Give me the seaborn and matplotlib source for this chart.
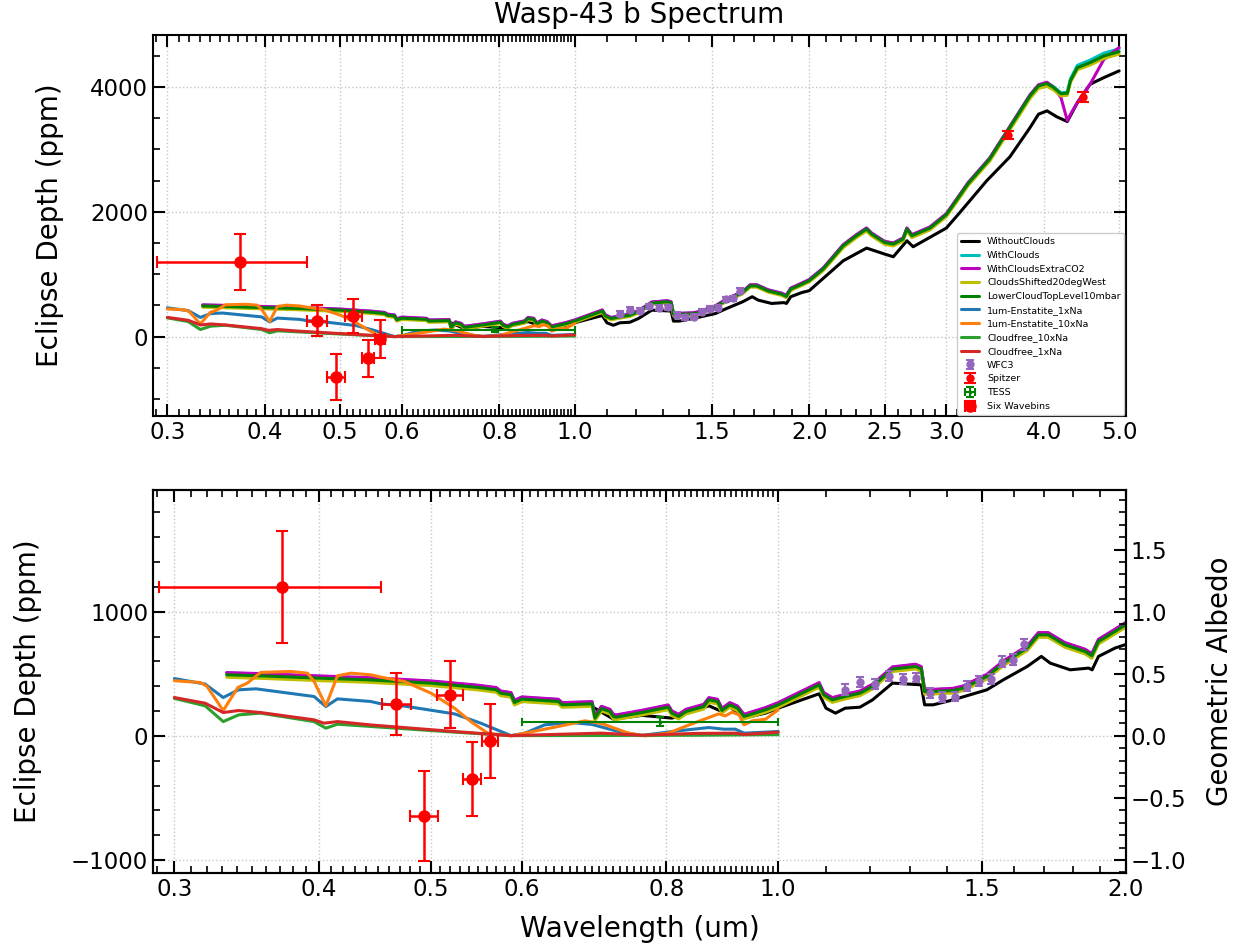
import numpy as np
import pandas as pd
import matplotlib
matplotlib.use("Agg")
import matplotlib.pyplot as plt
import seaborn as sns
from matplotlib.ticker import FixedLocator, FixedFormatter, MultipleLocator, NullFormatter

# ---------------- data ----------------
# GCM cloudy models, common wavelength grid (um)
wl_cloud = [0.333, 0.36, 0.40, 0.44, 0.50, 0.55, 0.57, 0.575, 0.587, 0.591,
            0.60, 0.645, 0.65, 0.69, 0.694, 0.703, 0.715, 0.72, 0.724, 0.762,
            0.803, 0.809, 0.82, 0.832, 0.862, 0.871, 0.886, 0.894, 0.908, 0.922,
            0.934, 0.975, 1.0, 1.085, 1.095, 1.114, 1.143, 1.177, 1.207, 1.256,
            1.315, 1.33, 1.339, 1.362, 1.417, 1.446, 1.516, 1.567, 1.643, 1.68,
            1.713, 1.771, 1.844, 1.869, 1.894, 1.957, 2.0, 2.085, 2.212, 2.30,
            2.37, 2.405, 2.5, 2.565, 2.64, 2.67, 2.71, 2.858, 3.0, 3.11,
            3.2, 3.41, 3.62, 3.843, 3.94, 4.04, 4.12, 4.21, 4.29, 4.33,
            4.42, 4.59, 4.78, 5.0]
with_clouds = [507, 497, 480, 467, 440, 405, 386, 359, 346, 284,
               311, 292, 265, 273, 158, 235, 211, 171, 166, 203,
               246, 198, 171, 211, 251, 305, 292, 219, 265, 238,
               171, 225, 265, 426, 346, 305, 332, 359, 413, 553,
               574, 555, 372, 372, 380, 399, 493, 601, 722, 829,
               829, 749, 695, 660, 775, 856, 911, 1098, 1471, 1631,
               1738, 1658, 1524, 1498, 1578, 1738, 1631, 1754, 1967, 2244,
               2465, 2858, 3364, 3871, 4031, 4068, 4004, 3905, 3915, 4130,
               4345, 4430, 4540, 4610]
with_clouds_co2 = [510, 500, 483, 470, 443, 408, 389, 362, 349, 287,
                   314, 295, 268, 276, 161, 238, 214, 174, 169, 206,
                   249, 201, 174, 214, 254, 308, 295, 222, 268, 241,
                   174, 228, 268, 429, 349, 308, 335, 362, 416, 556,
                   577, 558, 375, 375, 383, 402, 496, 604, 725, 832,
                   832, 752, 698, 663, 778, 859, 914, 1101, 1474, 1634,
                   1741, 1661, 1527, 1501, 1581, 1741, 1634, 1757, 1970, 2247,
                   2468, 2861, 3367, 3874, 4034, 4075, 3990, 3830, 3460, 3560,
                   3750, 4045, 4440, 4630]
clouds_shifted = [472, 462, 445, 432, 405, 370, 351, 324, 311, 249,
                  276, 257, 230, 238, 123, 200, 176, 136, 131, 168,
                  211, 163, 136, 176, 216, 270, 257, 184, 230, 203,
                  136, 190, 230, 391, 311, 270, 297, 324, 378, 518,
                  539, 520, 337, 337, 345, 364, 458, 566, 687, 794,
                  794, 714, 660, 625, 740, 821, 876, 1058, 1426, 1586,
                  1693, 1613, 1479, 1453, 1533, 1693, 1586, 1709, 1922, 2199,
                  2420, 2810, 3310, 3815, 3975, 4010, 3950, 3855, 3865, 4070,
                  4275, 4350, 4455, 4525]
lower_cloud_top = [492, 482, 465, 452, 425, 390, 371, 344, 331, 269,
                   296, 277, 250, 258, 143, 220, 196, 156, 151, 188,
                   231, 183, 156, 196, 236, 290, 277, 204, 250, 223,
                   156, 210, 250, 411, 331, 290, 317, 344, 398, 538,
                   559, 540, 357, 357, 365, 384, 478, 586, 707, 814,
                   814, 734, 680, 645, 760, 841, 896, 1083, 1456, 1616,
                   1723, 1643, 1509, 1483, 1563, 1723, 1616, 1739, 1952, 2229,
                   2450, 2843, 3349, 3856, 4016, 4053, 3989, 3890, 3900, 4100,
                   4309, 4389, 4496, 4565]

# cloud-free GCM
wl_noclouds = [0.69, 0.72, 0.762, 0.809, 0.832, 0.871, 0.89, 0.908, 0.934, 0.975,
               1.0, 1.085, 1.1, 1.121, 1.143, 1.177, 1.207, 1.256, 1.33, 1.339,
               1.362, 1.417, 1.516, 1.567, 1.643, 1.69, 1.72, 1.79, 1.857, 1.87,
               1.894, 1.957, 2.0, 2.212, 2.37, 2.5, 2.565, 2.67, 2.72, 3.0,
               3.11, 3.38, 3.62, 3.843, 3.94, 4.04, 4.16, 4.29, 4.42, 4.59,
               4.78, 5.0]
without_clouds = [235, 135, 165, 143, 180, 242, 204, 236, 143, 183,
                  223, 339, 223, 183, 223, 231, 290, 425, 411, 250,
                  250, 290, 371, 452, 559, 640, 586, 532, 546, 532,
                  640, 707, 736, 1216, 1419, 1323, 1280, 1536, 1440, 1739,
                  1963, 2496, 2880, 3349, 3563, 3616, 3520, 3445, 3749, 4043,
                  4149, 4256]

# optical reflection models
wl_ens1 = [0.300, 0.319, 0.3307, 0.341, 0.353, 0.3964, 0.4058, 0.4153, 0.4437, 0.453,
           0.4746, 0.5245, 0.5527, 0.587, 0.6035, 0.628, 0.662, 0.69, 0.727, 0.762,
           0.809, 0.8706, 0.897, 0.918, 0.934, 1.0]
ens_1xna = [462, 417, 309, 371, 379, 317, 236, 298, 277, 258,
            240, 177, 102, 2, 22, 89, 107, 92, 35, 3,
            35, 67, 54, 54, 22, 35]
wl_ens10 = [0.300, 0.316, 0.3202, 0.3307, 0.3405, 0.347, 0.3563, 0.3783, 0.3912, 0.3964,
            0.4058, 0.4153, 0.4265, 0.4437, 0.453, 0.4746, 0.5005, 0.5245, 0.5418, 0.5603,
            0.587, 0.6447, 0.680, 0.703, 0.742, 0.767, 0.803, 0.842, 0.888, 0.90,
            0.912, 0.925, 0.934, 0.9495, 0.975, 1.0]
ens_10xna = [444, 430, 398, 204, 390, 425, 511, 519, 505, 438,
             242, 484, 505, 492, 473, 438, 344, 223, 115, 22,
             0, 75, 121, 100, 22, 0, 22, 97, 177, 161,
             191, 169, 89, 121, 134, 210]
wl_cf10 = [0.300, 0.319, 0.3307, 0.341, 0.3563, 0.3964, 0.4058, 0.4153, 0.453, 0.5245,
           0.587, 0.703, 0.85, 1.0]
cloudfree_10xna = [302, 242, 115, 169, 183, 115, 62, 94, 70, 30,
                   2, 3, 5, 10]
wl_cf1 = [0.300, 0.319, 0.3307, 0.341, 0.3563, 0.3964, 0.4043, 0.4153, 0.4437, 0.5245,
          0.587, 0.703, 0.762, 0.85, 0.918, 0.934, 1.0]
cloudfree_1xna = [309, 263, 188, 204, 188, 129, 102, 115, 88, 35,
                  2, 22, 5, 20, 22, 11, 30]

# observations
wfc3_wl = [1.1425, 1.1775, 1.2125, 1.2475, 1.2825, 1.3175, 1.3525, 1.3875,
           1.4225, 1.4575, 1.4925, 1.5275, 1.5625, 1.5975, 1.6325]
wfc3_depth = [371, 433, 419, 484, 460, 470, 349, 312, 317, 403, 444, 460, 597, 613, 739]
wfc3_err = [45, 40, 40, 40, 40, 40, 40, 40, 40, 40, 40, 40, 45, 45, 45]
spitzer_wl = [3.6, 4.5]
spitzer_depth = [3230, 3830]
spitzer_err = [60, 80]
tess_wl = [0.79]
tess_xlo = [0.19]
tess_xhi = [0.21]
tess_depth = [113]
tess_err = [35]
bins_wl = [0.372, 0.467, 0.494, 0.520, 0.543, 0.5625]
bins_xerr = [0.081, 0.0135, 0.0137, 0.0133, 0.0099, 0.009]
bins_depth = [1200, 258, -645, 333, -347, -40]
bins_err = [450, 250, 365, 270, 300, 300]

major_ticks_top = [0.3, 0.4, 0.5, 0.6, 0.8, 1.0, 1.5, 2.0, 2.5, 3.0, 4.0, 5.0]
major_labels_top = ["0.3", "0.4", "0.5", "0.6", "0.8", "1.0", "1.5", "2.0", "2.5", "3.0", "4.0", "5.0"]
major_ticks_bot = [0.3, 0.4, 0.5, 0.6, 0.8, 1.0, 1.5, 2.0]
major_labels_bot = ["0.3", "0.4", "0.5", "0.6", "0.8", "1.0", "1.5", "2.0"]

# ---------------- style ----------------
sns.set_style("ticks")
plt.rcParams["font.family"] = ["DejaVu Sans"]
plt.rcParams["axes.linewidth"] = 1.5
plt.rcParams["axes.edgecolor"] = "black"
plt.rcParams["text.color"] = "black"
plt.rcParams["axes.labelcolor"] = "black"
plt.rcParams["xtick.color"] = "black"
plt.rcParams["ytick.color"] = "black"

lines = [
    (wl_noclouds, without_clouds, "WithoutClouds", "k"),
    (wl_cloud, with_clouds, "WithClouds", "c"),
    (wl_cloud, with_clouds_co2, "WithCloudsExtraCO2", "m"),
    (wl_cloud, clouds_shifted, "CloudsShifted20degWest", "y"),
    (wl_cloud, lower_cloud_top, "LowerCloudTopLevel10mbar", "g"),
    (wl_ens1, ens_1xna, "1um-Enstatite_1xNa", "C0"),
    (wl_ens10, ens_10xna, "1um-Enstatite_10xNa", "C1"),
    (wl_cf10, cloudfree_10xna, "Cloudfree_10xNa", "C2"),
    (wl_cf1, cloudfree_1xna, "Cloudfree_1xNa", "C3"),
]


def draw(ax):
    for wl, val, lab, col in lines:
        df = pd.DataFrame({"wl": wl, "depth": val})
        sns.lineplot(data=df, x="wl", y="depth", ax=ax, color=col, lw=2.2,
                     label=lab, sort=False, estimator=None, legend=False)
    ax.errorbar(wfc3_wl, wfc3_depth, yerr=wfc3_err, fmt="o", color="C4", ms=5,
                capsize=3, elinewidth=1.5, capthick=1.5, label="WFC3", zorder=5)
    ax.errorbar(spitzer_wl, spitzer_depth, yerr=spitzer_err, fmt="o", color="r", ms=5,
                capsize=4, elinewidth=1.5, capthick=1.5, label="Spitzer", zorder=5)
    ax.errorbar(tess_wl, tess_depth, xerr=[tess_xlo, tess_xhi], yerr=tess_err, fmt="s",
                ms=2, color="g", capsize=3, elinewidth=1.5, capthick=1.5, label="TESS",
                zorder=5)
    ax.errorbar(bins_wl, bins_depth, xerr=bins_xerr, yerr=bins_err, fmt="o", color="r",
                ms=8, capsize=4, elinewidth=1.8, capthick=1.5, label="Six Wavebins",
                zorder=6)
    ax.set_xscale("log")
    ax.grid(True, which="major", ls=":", color="0.78", lw=1.0)
    ax.tick_params(which="both", direction="in", top=True, right=True, labelsize=16.5)
    ax.tick_params(which="major", length=8.5, width=1.5)
    ax.tick_params(which="minor", length=5, width=1.2)


fig = plt.figure(figsize=(12.44, 9.47), dpi=100)
ax1 = fig.add_axes([0.123, 0.5607, 0.782, 0.4023])
ax2 = fig.add_axes([0.123, 0.0781, 0.782, 0.4044])

# ---- top panel ----
draw(ax1)
ax1.set_xlim(0.2875, 5.1)
ax1.set_ylim(-1270, 4830)
ax1.xaxis.set_major_locator(FixedLocator(major_ticks_top))
ax1.xaxis.set_major_formatter(FixedFormatter(major_labels_top))
minor_top = list(np.round(np.arange(0.29, 1.0, 0.01), 2)) + list(np.round(np.arange(1.1, 5.1, 0.1), 1))
ax1.xaxis.set_minor_locator(FixedLocator(minor_top))
ax1.xaxis.set_minor_formatter(NullFormatter())
ax1.yaxis.set_major_locator(MultipleLocator(2000))
ax1.yaxis.set_minor_locator(MultipleLocator(500))
ax1.set_xlabel("")
ax1.set_ylabel("Eclipse Depth (ppm)", fontsize=20)
ax1.yaxis.set_label_coords(-0.0915, 0.5)
ax1.set_title("Wasp-43 b Spectrum", fontsize=20, pad=9)
leg = ax1.legend(loc="lower right", fontsize=6.8, labelspacing=0.5, borderaxespad=0.15,
                 framealpha=1.0, fancybox=True, edgecolor="0.8")

# ---- bottom panel ----
draw(ax2)
ax2.set_xlim(0.2875, 2.0)
ax2.set_ylim(-1105, 1980)
ax2.xaxis.set_major_locator(FixedLocator(major_ticks_bot))
ax2.xaxis.set_major_formatter(FixedFormatter(major_labels_bot))
minor_bot = list(np.round(np.arange(0.29, 1.0, 0.01), 2)) + list(np.round(np.arange(1.1, 2.0, 0.1), 1))
ax2.xaxis.set_minor_locator(FixedLocator(minor_bot))
ax2.xaxis.set_minor_formatter(NullFormatter())
ax2.yaxis.set_major_locator(MultipleLocator(1000))
ax2.yaxis.set_minor_locator(MultipleLocator(200))
ax2.tick_params(right=False, which="both")
ax2.set_xlabel("Wavelength (um)", fontsize=20, labelpad=10)
ax2.set_ylabel("Eclipse Depth (ppm)", fontsize=20)
ax2.yaxis.set_label_coords(-0.114, 0.5)

ax3 = ax2.twinx()
ax3.set_ylim(-1.105, 1.98)
ax3.yaxis.set_major_locator(MultipleLocator(0.5))
ax3.yaxis.set_minor_locator(MultipleLocator(0.1))
ax3.tick_params(which="both", direction="in", labelsize=16.5)
ax3.tick_params(which="major", length=8.5, width=1.5)
ax3.tick_params(which="minor", length=5, width=1.2)
ax3.set_ylabel("Geometric Albedo", fontsize=20)
ax3.yaxis.set_label_coords(1.082, 0.5)

fig.savefig("out.png", dpi=100)
